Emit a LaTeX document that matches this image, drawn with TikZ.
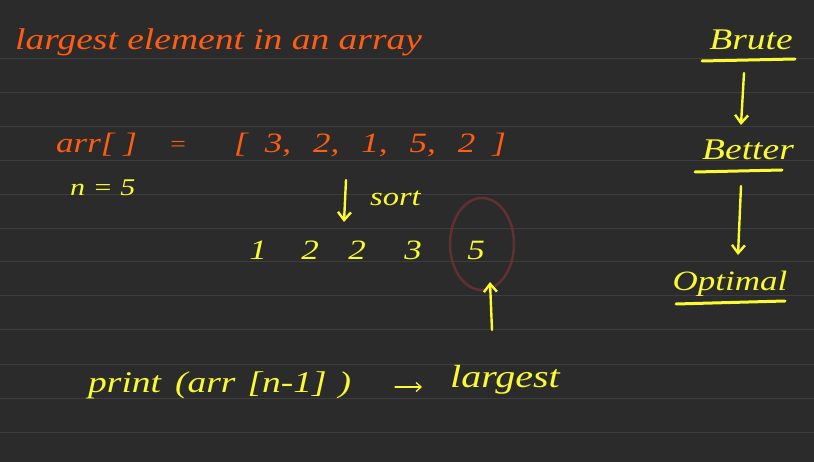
\documentclass[tikz,border=0pt]{standalone}
\usepackage{fontspec}
\setmainfont{Liberation Serif}
\newfontfamily\hand[FakeStretch=1.25]{Liberation Serif}
\usetikzlibrary{arrows.meta,shapes.geometric}
\definecolor{bg}{RGB}{43,43,43}
\definecolor{rule}{RGB}{62,62,62}
\definecolor{orng}{RGB}{255,92,20}
\definecolor{yel}{RGB}{250,250,50}
\definecolor{ring}{RGB}{105,52,48}
\newcommand{\hsz}[1]{\hand\itshape\fontsize{#1}{#1}\selectfont}
\tikzset{
  otext/.style={text=orng,inner sep=0pt},
  ytext/.style={text=yel,inner sep=0pt},
  yarrow/.style={draw=yel,line width=2.4pt,line cap=round,-{Straight Barb[length=8pt,width=13pt,line width=2.4pt]}},
  thinarrow/.style={draw=yel,line width=1.3pt,line cap=round,-{Straight Barb[length=5pt,width=9pt,line width=1.3pt]}},
  uline/.style={draw=yel,line width=3pt,line cap=round},
}
\begin{document}
\begin{tikzpicture}[x=1pt,y=-1pt]
\fill[bg] (0,0) rectangle (814,462);
\useasboundingbox (0,0) rectangle (814,462);
\foreach \yy in {59,93,127,161,195,229,262,296,330,364,398,432}
  \draw[rule,line width=1pt] (0,\yy) -- (814,\yy);
% title
\node[otext,anchor=west,font=\hsz{30}] (title) at (15,42) {largest element in an array};
% array line
\node[otext,anchor=west,font=\hsz{28}] (arr) at (56,145) {arr[ ]};
\node[otext,anchor=center,font=\hsz{22}] (eq) at (178,146) {=};
\node[otext,anchor=west,font=\hsz{28}] (list) at (234,145) {[\hspace{17pt}3,\hspace{22pt}2,\hspace{22pt}1,\hspace{22pt}5,\hspace{22pt}2\hspace{17pt}]};
\node[ytext,anchor=west,font=\hsz{24}] (n) at (70,188) {n = 5};
% sort
\coordinate (sorttop) at (346,180);
\coordinate (sortbot) at (344,222);
\draw[yarrow] (sorttop) -- (sortbot);
\node[ytext,anchor=west,font=\hsz{26}] (sort) at (370,198) {sort};
% sorted values
\foreach \v/\xx/\nm in {1/258/s1,2/310/s2,2/357/s3,3/413/s4,5/476/s5}
  \node[ytext,font=\hsz{28}] (\nm) at (\xx,250) {\v};
\draw[ring,line width=2.5pt,opacity=0.85] (482,244) ellipse [x radius=32,y radius=46];
\coordinate (upfoot) at (492,330);
\coordinate (uptip) at (490,282);
\draw[yarrow] (upfoot) -- (uptip);
% print line
\node[ytext,anchor=west,font=\hsz{30}] (print) at (88,385) {print\hspace{14pt}(arr\hspace{12pt}[n-1]\hspace{12pt})};
\node[ytext,anchor=west,font=\hsz{32}] (largest) at (450,380) {largest};
\coordinate (pa) at (395,387);
\coordinate (pb) at (422,387);
\draw[thinarrow] (pa) -- (pb);
% right column
\node[ytext,font=\hsz{30}] (brute) at (751,40) {Brute};
\draw[uline] (702,61) -- (795,59);
\node[ytext,font=\hsz{30}] (better) at (748,150) {Better};
\draw[uline] (695,172) -- (782,170);
\node[ytext,font=\hsz{28}] (optimal) at (730,284) {Optimal};
\draw[uline] (676,304) -- (785,301);
\coordinate (a1s) at (744,73);
\coordinate (a1e) at (741,125);
\coordinate (a2s) at (741,186);
\coordinate (a2e) at (738,255);
\draw[yarrow] (a1s) -- (a1e);
\draw[yarrow] (a2s) -- (a2e);
\end{tikzpicture}
\end{document}
